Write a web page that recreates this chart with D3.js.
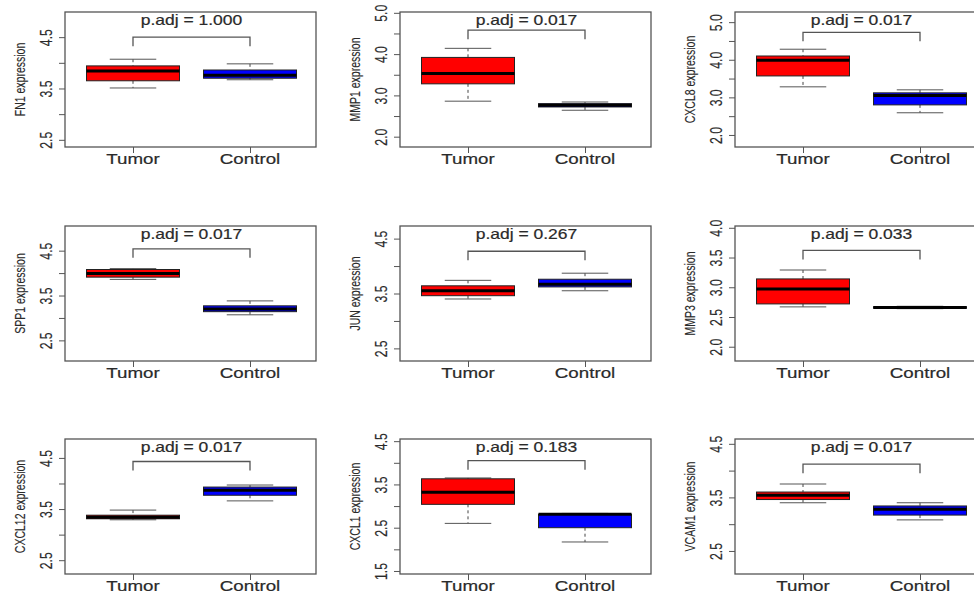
<!DOCTYPE html>
<html><head><meta charset="utf-8">
<script src="https://cdn.jsdelivr.net/npm/d3@7"></script>
<style>body{margin:0;background:#fff}svg{display:block}text{font-family:"Liberation Sans",Arial,sans-serif;fill:#2a2a2a}</style>
</head><body>
<svg id="chart" width="974" height="594"></svg>
<script>
// ---- data ----
const genes = ["FN1","MMP1","CXCL8","SPP1","JUN","MMP3","CXCL12","CXCL1","VCAM1"];
const groups = ["Tumor","Control"];
const pAdj = ["1.000","0.017","0.017","0.017","0.267","0.033","0.017","0.183","0.017"];
// [lower whisker, Q1, median, Q3, upper whisker]
const tumorStats = [
  [3.51,3.65,3.84,3.94,4.07],
  [2.86,3.28,3.53,3.92,4.14],
  [3.28,3.57,3.99,4.10,4.28],
  [3.86,3.91,3.99,4.08,4.10],
  [3.40,3.46,3.55,3.64,3.74],
  [2.67,2.72,2.97,3.14,3.29],
  [3.29,3.31,3.34,3.38,3.48],
  [2.60,3.04,3.32,3.63,3.65],
  [3.40,3.46,3.54,3.60,3.75]
];
const controlStats = [
  [3.67,3.70,3.76,3.86,3.98],
  [2.64,2.72,2.76,2.80,2.84],
  [2.59,2.80,3.05,3.12,3.20],
  [3.07,3.14,3.20,3.27,3.38],
  [3.55,3.62,3.67,3.76,3.87],
  [2.64,2.648,2.66,2.672,2.68],
  [3.66,3.77,3.87,3.93,3.97],
  [2.17,2.50,2.81,2.81,2.83],
  [3.08,3.17,3.28,3.34,3.40]
];
const yDomains = [[2.36,4.99],[1.75,5.02],[1.68,5.27],[2.04,5.05],[2.27,4.73],[1.76,4.03],[2.23,4.87],[1.43,4.55],[2.07,4.59]];
const yTicks = [
  [2.5,3,3.5,4,4.5],[2,2.5,3,3.5,4,4.5,5],[2,2.5,3,3.5,4,4.5,5],
  [2.5,3,3.5,4,4.5],[2.5,3,3.5,4,4.5],[2,2.5,3,3.5,4],
  [2.5,3,3.5,4,4.5],[1.5,2,2.5,3,3.5,4,4.5],[2.5,3,3.5,4,4.5]
];
const yTickLabels = [
  [2.5,3.5,4.5],[2,3,4,5],[2,3,4,5],
  [2.5,3.5,4.5],[2.5,3.5,4.5],[2,2.5,3,3.5,4],
  [2.5,3.5,4.5],[1.5,2.5,3.5,4.5],[2.5,3.5,4.5]
];
const bracketLevel = [4.50,4.58,4.73,4.54,4.27,3.62,4.43,4.05,4.12];

// ---- layout ----
const colLeft = [65,400,735], rowTop = [12,226,439];
const W = 251, H = 135;
const fill = {Tumor:"#ff0000", Control:"#0000ff"};
const svg = d3.select("#chart");

genes.forEach((gene,i)=>{
  const left = colLeft[i%3], top = rowTop[Math.floor(i/3)];
  const g = svg.append("g").attr("transform",`translate(${left},${top})`);
  const y = d3.scaleLinear().domain(yDomains[i]).range([H,0]);
  const x = d3.scalePoint().domain(groups).range([68,185]);
  const bw = 93;

  // boxes
  const stats = [{k:"Tumor",s:tumorStats[i]},{k:"Control",s:controlStats[i]}];
  stats.forEach(d=>{
    const cx = x(d.k), [lo,q1,med,q3,hi] = d.s;
    const bg = g.append("g");
    bg.append("line").attr("x1",cx).attr("x2",cx).attr("y1",y(hi)).attr("y2",y(q3))
      .attr("stroke","#444").attr("stroke-dasharray","3,3");
    bg.append("line").attr("x1",cx).attr("x2",cx).attr("y1",y(q1)).attr("y2",y(lo))
      .attr("stroke","#444").attr("stroke-dasharray","3,3");
    [lo,hi].forEach(v=>bg.append("line").attr("x1",cx-bw/4).attr("x2",cx+bw/4)
      .attr("y1",y(v)).attr("y2",y(v)).attr("stroke","#555"));
    bg.append("rect").attr("x",cx-bw/2).attr("width",bw).attr("y",y(q3))
      .attr("height",Math.max(0.5,y(q1)-y(q3))).attr("fill",fill[d.k]).attr("stroke","#222").attr("stroke-width",1);
    bg.append("line").attr("x1",cx-bw/2).attr("x2",cx+bw/2).attr("y1",y(med)).attr("y2",y(med))
      .attr("stroke","#000").attr("stroke-width",3);
  });

  // frame
  g.append("rect").attr("width",W).attr("height",H).attr("fill","none").attr("stroke","#555").attr("stroke-width",1.3);

  // y axis
  const labSet = new Set(yTickLabels[i].map(v=>v.toFixed(1)));
  const yAxis = g.append("g").call(d3.axisLeft(y).tickValues(yTicks[i]).tickSize(6)
      .tickFormat(v=>labSet.has(v.toFixed(1))?v.toFixed(1):""));
  yAxis.select(".domain").remove();
  yAxis.selectAll("line").attr("stroke","#555");
  yAxis.selectAll("text").attr("x",0).attr("dy",0).attr("text-anchor","middle")
    .attr("font-size",17).attr("fill","#2a2a2a").attr("font-family","Liberation Sans, Arial, sans-serif")
    .attr("stroke","#2a2a2a").attr("stroke-width",0.2)
    .attr("transform","translate(-13,0) rotate(-90) scale(0.72,1)");

  // x axis
  const xAxis = g.append("g").attr("transform",`translate(0,${H})`)
    .call(d3.axisBottom(x).tickSize(6).tickFormat(""));
  xAxis.select(".domain").remove();
  xAxis.selectAll("line").attr("stroke","#555");
  groups.forEach(k=>{
    g.append("text").attr("transform",`translate(${x(k)},${H+17}) scale(1.25,1)`)
      .attr("text-anchor","middle").attr("font-size",15)
      .attr("stroke","#2a2a2a").attr("stroke-width",0.2).text(k);
  });

  // y label
  g.append("text").attr("transform",`translate(-40,${H/2}) rotate(-90) scale(0.7,1)`)
    .attr("text-anchor","middle").attr("font-size",15)
    .attr("stroke","#2a2a2a").attr("stroke-width",0.15).text(gene+" expression");

  // bracket
  const by = y(bracketLevel[i]);
  g.append("path").attr("d",`M${x("Tumor")},${by+9}V${by}H${x("Control")}V${by+9}`)
    .attr("fill","none").attr("stroke","#555").attr("stroke-width",1.3);
  g.append("text").attr("transform",`translate(${(x("Tumor")+x("Control"))/2},13) scale(1.25,1)`)
    .attr("text-anchor","middle").attr("font-size",14)
    .attr("stroke","#2a2a2a").attr("stroke-width",0.2).text("p.adj = "+pAdj[i]);
});
</script>
</body></html>
